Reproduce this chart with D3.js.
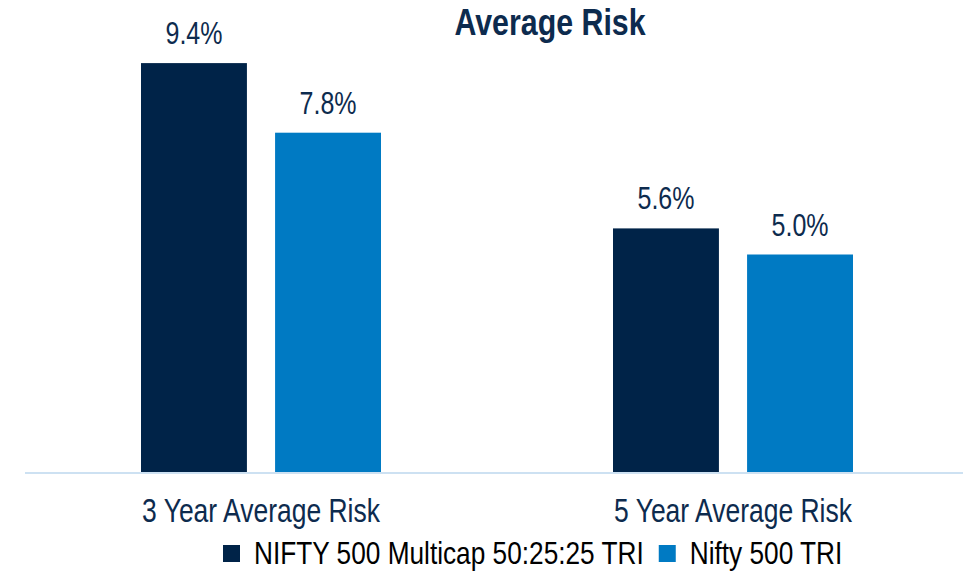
<!DOCTYPE html>
<html>
<head>
<meta charset="utf-8">
<script src="https://cdn.jsdelivr.net/npm/d3@7"></script>
<style>
  html, body { margin: 0; padding: 0; background: #fff; }
  svg { display: block; }
  text { font-family: "Liberation Sans", Arial, sans-serif; }
</style>
</head>
<body>
<svg id="chart" width="963" height="572"></svg>
<script>
const categories = ['3 Year Average Risk', '5 Year Average Risk'];
const seriesNames = ['NIFTY 500 Multicap 50:25:25 TRI', 'Nifty 500 TRI'];
const multicapValues = [9.4, 5.6];
const nifty500Values = [7.8, 5.0];
const colors = ['#002348', '#007ac3'];

const width = 963, height = 572;
const narrow = 0.82; // squeeze text to look like a narrow face

const svg = d3.select('#chart');

const rows = categories.map((c, i) => ({
  cat: c,
  vals: [
    { key: seriesNames[0], v: multicapValues[i] },
    { key: seriesNames[1], v: nifty500Values[i] }
  ]
}));

const x0 = d3.scaleBand().domain(categories).range([25, 969]);
const x1 = d3.scaleBand().domain(seriesNames).range([116, 356]).paddingInner(0.21);
const y = d3.scaleLinear().domain([0, 10]).range([472, 37]);
const color = d3.scaleOrdinal().domain(seriesNames).range(colors);

// helper to place squeezed text
const placeText = (sel, px, py) => sel.attr('transform', `translate(${px},${py}) scale(${narrow},1)`);

// title
svg.append('text')
  .call(placeText, 550, 35)
  .attr('text-anchor', 'middle')
  .style('font-size', '37px')
  .style('font-weight', 'bold')
  .style('fill', '#0d2b4e')
  .text('Average Risk');

const groups = svg.selectAll('g.group')
  .data(rows)
  .join('g')
  .attr('class', 'group')
  .attr('transform', d => `translate(${x0(d.cat)},0)`);

groups.selectAll('rect')
  .data(d => d.vals)
  .join('rect')
  .attr('x', d => x1(d.key))
  .attr('y', d => y(d.v))
  .attr('width', x1.bandwidth())
  .attr('height', d => y(0) - y(d.v))
  .attr('fill', d => color(d.key));

groups.selectAll('text.val')
  .data(d => d.vals)
  .join('text')
  .attr('class', 'val')
  .each(function (d) {
    d3.select(this).call(placeText, x1(d.key) + x1.bandwidth() / 2, y(d.v) - 19);
  })
  .attr('text-anchor', 'middle')
  .style('font-size', '30.5px')
  .style('fill', '#0d2b4e')
  .text(d => d.v.toFixed(1) + '%');

// baseline
svg.append('line')
  .attr('x1', 25).attr('x2', width)
  .attr('y1', y(0) + 1).attr('y2', y(0) + 1)
  .attr('stroke', '#bdd7ee')
  .attr('stroke-width', 1.6);

// category labels
svg.selectAll('text.cat')
  .data(categories)
  .join('text')
  .attr('class', 'cat')
  .each(function (d) {
    d3.select(this).call(placeText, x0(d) + (x1.range()[0] + x1.range()[1]) / 2, 522);
  })
  .attr('text-anchor', 'middle')
  .style('font-size', '32.3px')
  .style('fill', '#0d2b4e')
  .text(d => d);

// legend
const legend = svg.append('g').attr('class', 'legend');
let lx = 223;
seriesNames.forEach((name, i) => {
  legend.append('rect')
    .attr('x', lx).attr('y', 545)
    .attr('width', 17).attr('height', 17)
    .attr('fill', colors[i]);
  const t = legend.append('text')
    .call(placeText, lx + 31, 564)
    .style('font-size', '32px')
    .style('fill', '#000')
    .text(name);
  const w = t.node().getComputedTextLength() * narrow;
  lx = lx + 31 + w + 15;
});
</script>
</body>
</html>
